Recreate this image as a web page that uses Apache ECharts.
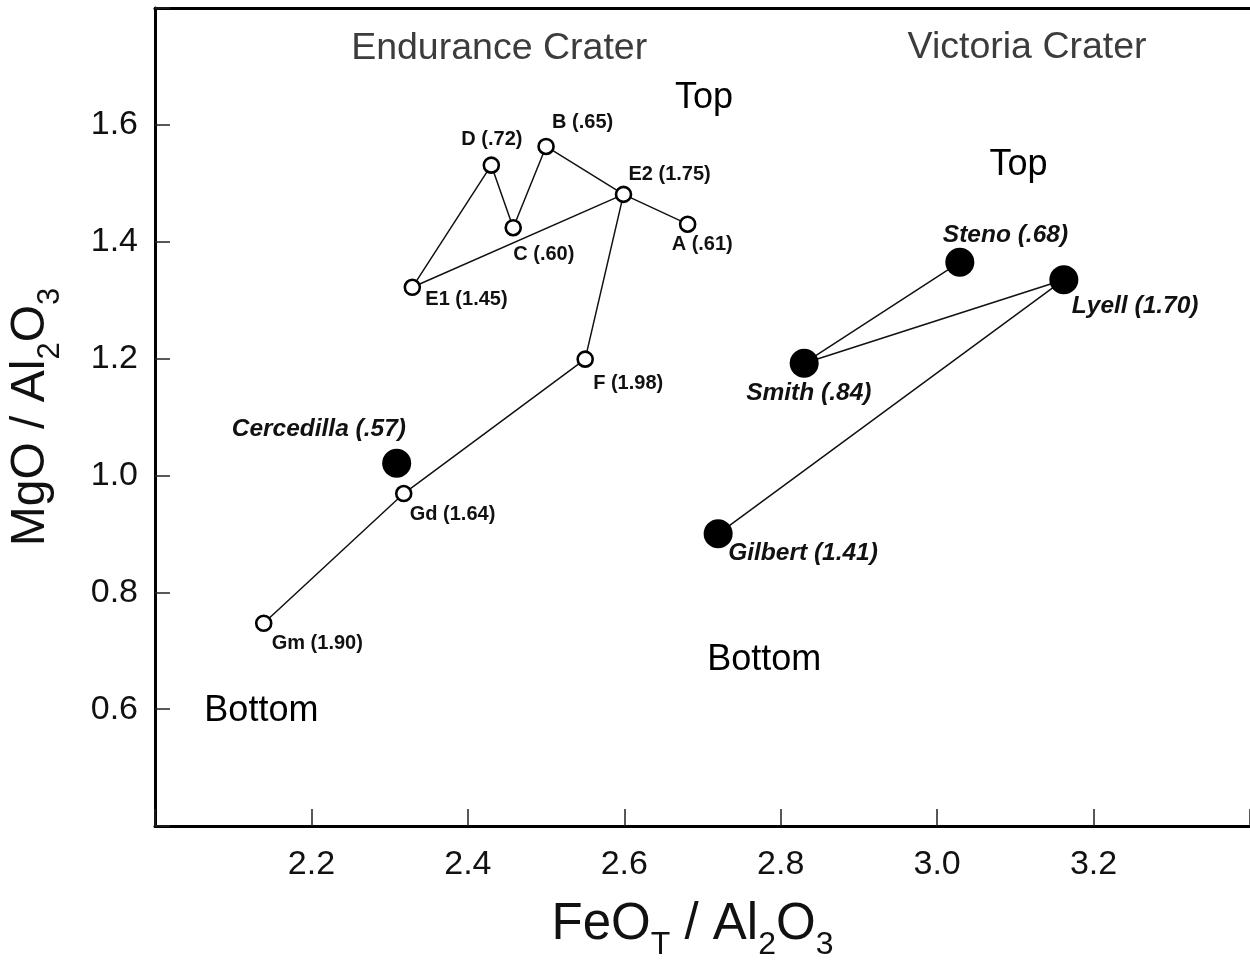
<!DOCTYPE html>
<html><head><meta charset="utf-8">
<script src="https://cdn.jsdelivr.net/npm/echarts@6/dist/echarts.min.js"></script>
<style>html,body{margin:0;padding:0;background:#fff}#c{width:1250px;height:960px}</style>
</head><body><div id="c"></div>
<script>
// ---- data ----
const enduranceNames = ['Gm (1.90)','Gd (1.64)','F (1.98)','E2 (1.75)','E1 (1.45)','D (.72)','C (.60)','B (.65)','A (.61)'];
const enduranceFeO  = [2.139, 2.318, 2.550, 2.599, 2.329, 2.430, 2.458, 2.500, 2.681];
const enduranceMgO  = [0.747, 0.969, 1.199, 1.481, 1.322, 1.531, 1.424, 1.563, 1.430];
const endurancePath = ['Gm (1.90)','Gd (1.64)','F (1.98)','E2 (1.75)','E1 (1.45)','D (.72)','C (.60)','B (.65)','E2 (1.75)','A (.61)'];

const victoriaNames = ['Gilbert (1.41)','Lyell (1.70)','Smith (.84)','Steno (.68)'];
const victoriaFeO  = [2.720, 3.162, 2.830, 3.029];
const victoriaMgO  = [0.900, 1.335, 1.192, 1.365];
const victoriaPath = ['Gilbert (1.41)','Lyell (1.70)','Smith (.84)','Steno (.68)'];

const otherNames = ['Cercedilla (.57)'];
const otherFeO  = [2.309];
const otherMgO  = [1.021];

const annotationTexts = ['Endurance Crater','Victoria Crater','Top','Top','Bottom','Bottom'];
const annotationKinds = ['title','title','pos','pos','pos','pos'];
const annotationX = [2.440, 3.115, 2.702, 3.104, 2.136, 2.779];
const annotationY = [1.731, 1.732, 1.645, 1.532, 0.596, 0.684];

const xTickLabels = ['2.2','2.4','2.6','2.8','3.0','3.2'];
const yTickLabels = ['0.6','0.8','1.0','1.2','1.4','1.6'];

// ---- styles (label offsets in px: [left edge dx, middle dy]) ----
const labelOffsets = {
  'Gm (1.90)':[8,20], 'Gd (1.64)':[6,21], 'F (1.98)':[8,24], 'E2 (1.75)':[5,-20],
  'E1 (1.45)':[13,12], 'D (.72)':[-30,-26], 'C (.60)':[0,27], 'B (.65)':[6,-24], 'A (.61)':[-16,20],
  'Gilbert (1.41)':[10,19], 'Lyell (1.70)':[8,27], 'Smith (.84)':[-58,30], 'Steno (.68)':[-17,-27],
  'Cercedilla (.57)':[-165,-34]
};
const FONT = '"Liberation Sans", Arial, Helvetica, sans-serif';

function points(names, xs, ys) {
  return names.map((n, i) => ({ name: n, value: [xs[i], ys[i]], label: { offset: labelOffsets[n] || [0,0] } }));
}
function path(order, names, xs, ys) {
  return order.map(n => { const i = names.indexOf(n); return [xs[i], ys[i]]; });
}

const chart = echarts.init(document.getElementById('c'), null, { renderer: 'canvas' });

const subStyleX = { fontSize: 32, fontFamily: FONT, color: '#111', padding: [40, 0, 0, 0] };
const subStyleY = { fontSize: 31, fontFamily: FONT, color: '#111', padding: [38, 0, 0, 0] };

const option = {
  animation: false,
  backgroundColor: '#fff',
  grid: { left: 155, right: 0, top: 8, bottom: 134, containLabel: false, outerBoundsMode: 'none' },
  xAxis: [{
    type: 'value', min: 2.0, max: 3.4, interval: 0.2, position: 'bottom',
    axisLine: { show: true, onZero: false, lineStyle: { color: '#000', width: 3 } },
    axisTick: { show: true, inside: true, length: 17, lineStyle: { color: '#222', width: 1.5 } },
    axisLabel: { fontSize: 34, color: '#111', fontFamily: FONT, margin: 22,
      formatter: v => { const s = v.toFixed(1); return xTickLabels.includes(s) ? s : ''; } },
    splitLine: { show: false },
    name: 'FeO{s|T} / Al{s|2}O{s|3}', nameLocation: 'middle', nameGap: 71,
    nameTextStyle: { fontSize: 51, color: '#111', fontFamily: FONT, lineHeight: 56, padding: [0, 20, 0, 0],
      rich: { s: subStyleX } }
  }, {
    type: 'value', min: 2.0, max: 3.4, position: 'top',
    axisLine: { show: true, onZero: false, lineStyle: { color: '#000', width: 3 } },
    axisTick: { show: false }, axisLabel: { show: false }, splitLine: { show: false }
  }],
  yAxis: [{
    type: 'value', min: 0.4, max: 1.8, interval: 0.2, position: 'left',
    axisLine: { show: true, onZero: false, lineStyle: { color: '#000', width: 3 } },
    axisTick: { show: true, inside: true, length: 15, lineStyle: { color: '#222', width: 1.5 } },
    axisLabel: { fontSize: 34, color: '#111', fontFamily: FONT, margin: 17,
      formatter: v => { const s = v.toFixed(1); return yTickLabels.includes(s) ? s : ''; } },
    splitLine: { show: false },
    name: 'MgO / Al{s|2}O{s|3}', nameLocation: 'middle', nameGap: 96, nameRotate: 90,
    nameTextStyle: { fontSize: 48, color: '#111', fontFamily: FONT, lineHeight: 56,
      rich: { s: subStyleY } }
  }, {
    type: 'value', min: 0.4, max: 1.8, position: 'right',
    axisLine: { show: true, onZero: false, lineStyle: { color: '#d8d8d8', width: 1 } },
    axisTick: { show: false }, axisLabel: { show: false }, splitLine: { show: false }
  }],
  series: [
    { type: 'line', silent: true, z: 2, symbol: 'none', lineStyle: { color: '#111', width: 1.5 },
      data: path(endurancePath, enduranceNames, enduranceFeO, enduranceMgO) },
    { type: 'line', silent: true, z: 2, symbol: 'none', lineStyle: { color: '#111', width: 1.5 },
      data: path(victoriaPath, victoriaNames, victoriaFeO, victoriaMgO) },
    { type: 'scatter', z: 3, symbol: 'circle', symbolSize: 15,
      itemStyle: { color: '#fff', borderColor: '#000', borderWidth: 2.6, opacity: 1 },
      label: { show: true, position: 'inside', align: 'left', verticalAlign: 'middle',
        formatter: '{b}', fontSize: 20, fontWeight: 'bold', color: '#111', fontFamily: FONT, textBorderWidth: 0 },
      data: points(enduranceNames, enduranceFeO, enduranceMgO) },
    { type: 'scatter', z: 3, symbol: 'circle', symbolSize: 29,
      itemStyle: { color: '#000', opacity: 1 },
      label: { show: true, position: 'inside', align: 'left', verticalAlign: 'middle',
        formatter: '{b}', fontSize: 24.5, fontWeight: 'bold', fontStyle: 'italic', color: '#111', fontFamily: FONT, textBorderWidth: 0 },
      data: points(victoriaNames, victoriaFeO, victoriaMgO).concat(points(otherNames, otherFeO, otherMgO)) },
    { type: 'scatter', z: 1, silent: true, symbol: 'circle', symbolSize: 1,
      itemStyle: { color: 'rgba(0,0,0,0)' },
      label: { show: true, position: 'inside', align: 'center', verticalAlign: 'middle',
        color: '#000', textBorderWidth: 0, opacity: 1,
        formatter: p => '{' + annotationKinds[p.dataIndex] + '|' + p.name + '}',
        rich: {
          title: { fontSize: 37.5, color: '#3c3c3c', fontFamily: FONT, textBorderWidth: 0 },
          pos: { fontSize: 36, color: '#000', fontFamily: FONT, textBorderWidth: 0 }
        } },
      data: annotationTexts.map((t, i) => ({ name: t, value: [annotationX[i], annotationY[i]] })) }
  ]
};
chart.setOption(option);
</script>
</body></html>
